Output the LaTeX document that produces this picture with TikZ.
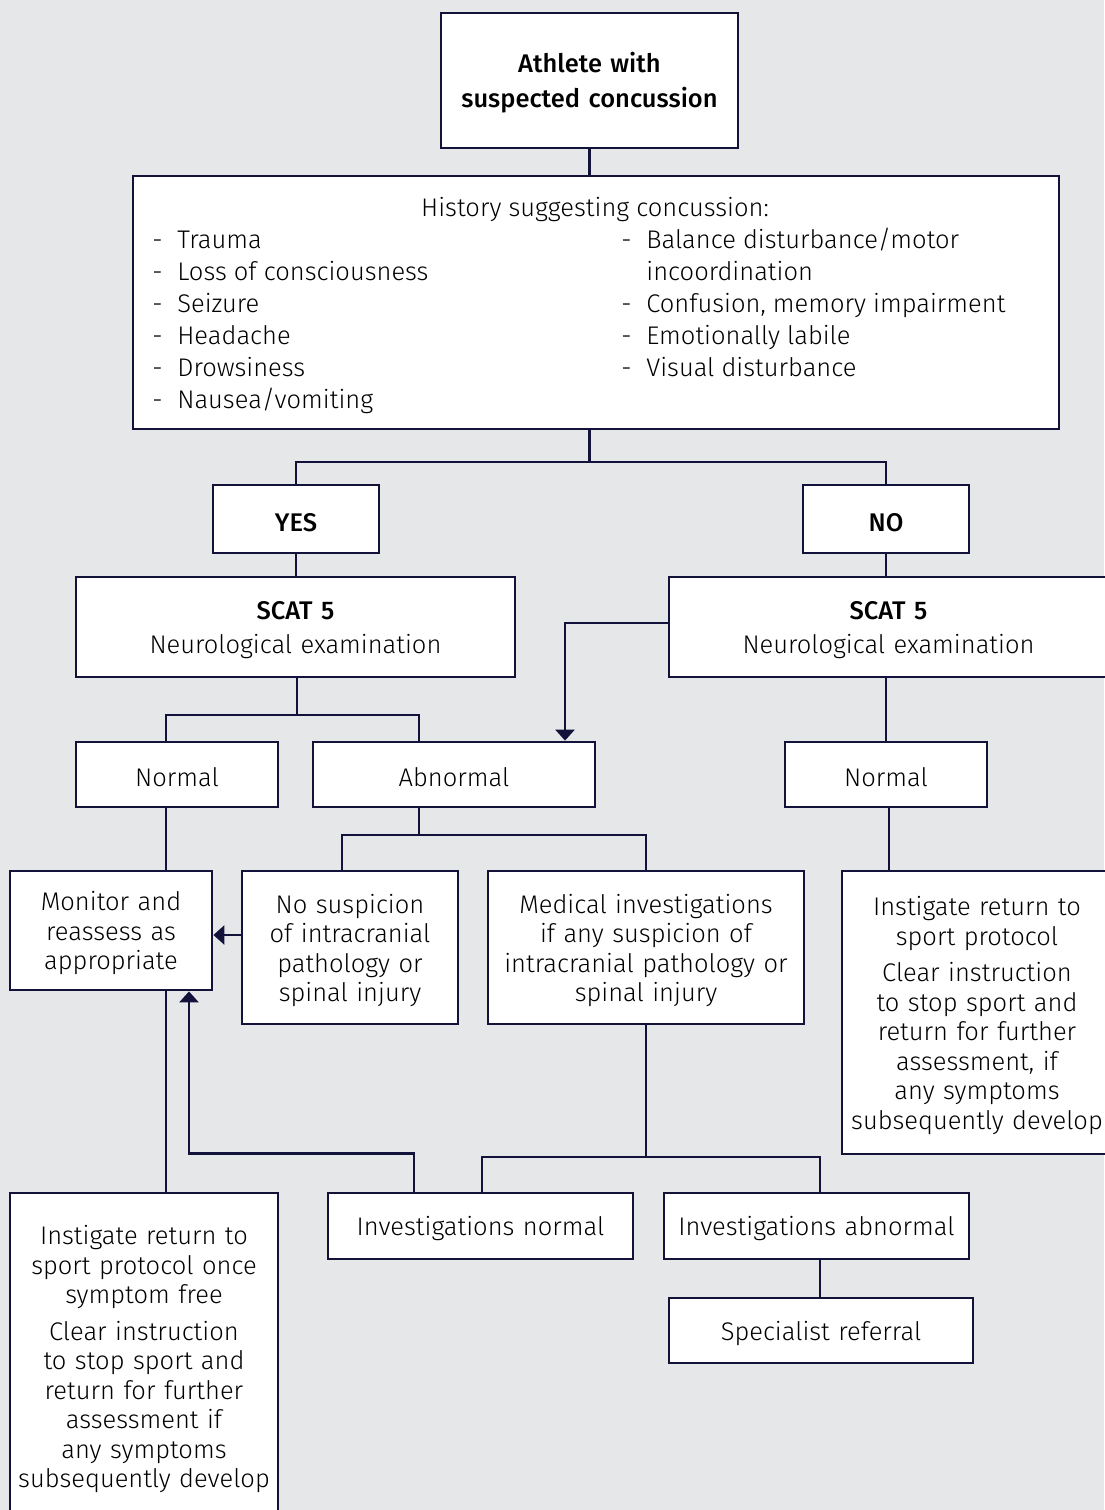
\documentclass[tikz,border=0pt]{standalone}
\usepackage{fontspec}
\setmainfont{Fira Sans}[UprightFont=* Light, BoldFont=* Medium]
\usetikzlibrary{arrows.meta}
\definecolor{navy}{HTML}{12123A}
\definecolor{paper}{HTML}{E6E7E9}
\def\linewd{2.8pt}
\newcommand\listdash{\makebox[25pt][l]{-}}

\begin{document}
\begin{tikzpicture}[x=1pt,y=-1pt,>={Triangle[width=19pt,length=11pt]},draw=navy,line width=\linewd]
      \tikzstyle{box}=[draw=navy, fill=white, line width=\linewd, inner sep=0pt, align=center, font=\fontsize{25.5}{29.5}\selectfont, execute at begin node=\rule{0pt}{25pt}]
      \tikzstyle{head box}=[box, font=\fontsize{25.5}{34}\selectfont]
      \tikzstyle{bold box}=[head box, font=\bfseries\fontsize{25.5}{35}\selectfont]
      \tikzstyle{plain text}=[inner sep=0pt, font=\fontsize{25.5}{29.5}\selectfont]
      \tikzstyle{list}=[inner sep=0pt, align=left, anchor=north west, font=\fontsize{25.5}{32}\selectfont]

      \useasboundingbox (0,0) rectangle (1104,1510);
      \fill[paper] (0,0) rectangle (1104,1510);

      % Draw the top boxes
      \node[bold box, text width=297pt, minimum height=135pt] (athlete) at (589.5,80.5) {Athlete with\\suspected concussion};
      \node[box, text width=926pt, minimum height=253pt] (history) at (596,302.5) {};
      \node[plain text] (histhead) at (595,210) {History suggesting concussion:};
      \node[list] (histleft) at (151,230) {\listdash Trauma\\\listdash Loss of consciousness\\\listdash Seizure\\\listdash Headache\\\listdash Drowsiness\\\listdash Nausea/vomiting};
      \node[list] (histright) at (620,227) {\listdash Balance disturbance/motor\\\hspace*{25pt}incoordination\\\listdash Confusion, memory impairment\\\listdash Emotionally labile\\\listdash Visual disturbance};

      % Draw the yes / no branch
      \node[bold box, text width=166pt, minimum height=68pt] (yes) at (296,519) {YES};
      \node[bold box, text width=166pt, minimum height=68pt] (no) at (886,519) {NO};
      \node[head box, text width=439pt, minimum height=100pt] (scatL) at (295.5,627) {\textbf{SCAT 5}\\Neurological examination};
      \node[head box, text width=439pt, minimum height=100pt] (scatR) at (888.5,627) {\textbf{SCAT 5}\\Neurological examination};

      % Draw the examination results
      \node[box, text width=202pt, minimum height=65pt] (normL) at (177,774.5) {Normal};
      \node[box, text width=282pt, minimum height=65pt] (abn) at (454,774.5) {Abnormal};
      \node[box, text width=202pt, minimum height=65pt] (normR) at (886,774.5) {Normal};

      % Draw the follow-up boxes
      \node[box, text width=202pt, minimum height=119pt] (monitor) at (111,930.5) {Monitor and\\reassess as\\appropriate};
      \node[box, text width=216pt, minimum height=153pt] (nosusp) at (350,947.5) {No suspicion\\of intracranial\\pathology or\\spinal injury};
      \node[box, text width=316pt, minimum height=153pt] (medinv) at (646,947.5) {Medical investigations\\if any suspicion of\\intracranial pathology or\\spinal injury};
      \node[box, text width=270pt, minimum height=283pt] (instR) at (977,1012.5) {Instigate return to\\sport protocol\\[7pt]Clear instruction\\to stop sport and\\return for further\\assessment, if\\any symptoms\\subsequently develop};

      % Draw the investigation boxes
      \node[box, text width=305pt, minimum height=66pt] (invnorm) at (480.5,1226) {Investigations normal};
      \node[box, text width=305pt, minimum height=66pt] (invabn) at (816.5,1226) {Investigations abnormal};
      \node[box, text width=304pt, minimum height=65pt] (spec) at (821,1330.5) {Specialist referral};
      \node[box, text width=268pt, minimum height=327pt] (instL) at (144,1356.5) {Instigate return to\\sport protocol once\\symptom free\\[7pt]Clear instruction\\to stop sport and\\return for further\\assessment if\\any symptoms\\subsequently develop};

      % Split points of the connectors
      \coordinate (split-hist) at (589.5,462);
      \coordinate (split-scat) at (297,715);
      \coordinate (split-abn) at (419,835);
      \coordinate (split-med) at (646,1157);

      % Connect the boxes
      \draw (athlete.south) -- (athlete.south |- history.north);
      \draw (athlete.south |- history.south) -- (split-hist);
      \draw (yes.north) |- (split-hist) -| (no.north);
      \draw (yes.south) -- (yes.south |- scatL.north);
      \draw (no.south) -- (no.south |- scatR.north);
      \draw (scatL.south -| split-scat) -- (split-scat);
      \draw ([xshift=-11pt]normL.north) |- (split-scat) -| ([xshift=-35pt]abn.north);
      \draw[->] ([yshift=4pt]scatR.west) -| ([xshift=111pt]abn.north);
      \draw (normR.north) -- (normR.north |- scatR.south);
      \draw ([xshift=-11pt]normL.south) -- ([xshift=-11pt]normL.south |- monitor.north);
      \draw ([xshift=-35pt]abn.south) -- (split-abn);
      \draw ([xshift=-8pt]nosusp.north) |- (split-abn) -| (medinv.north);
      \draw[->] ([yshift=12.5pt]nosusp.west) -- ([yshift=12.5pt]nosusp.west -| monitor.east);
      \draw ([xshift=3pt]normR.south) -- ([xshift=3pt]normR.south |- instR.north);
      \draw (medinv.south) -- (split-med);
      \draw ([xshift=1.5pt]invnorm.north) |- (split-med) -| ([xshift=3.5pt]invabn.north);
      \draw[->] ([xshift=-66.5pt]invnorm.north) -- ++(0,-38) -| ([xshift=78pt]monitor.south);
      \draw ([xshift=55pt]monitor.south) -- ([xshift=55pt]monitor.south |- instL.north);
      \draw ([xshift=3.5pt]invabn.south) -- ([xshift=3.5pt]invabn.south |- spec.north);
\end{tikzpicture}
\end{document}
